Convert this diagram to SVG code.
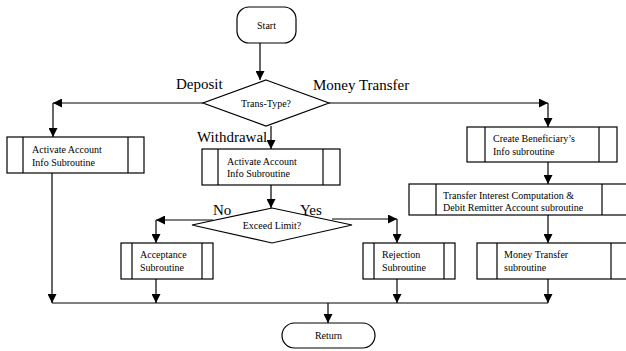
<svg xmlns="http://www.w3.org/2000/svg" width="626" height="351" viewBox="0 0 626 351">
<defs>
<marker id="ah" viewBox="0 0 10 10" refX="10" refY="5" markerWidth="9" markerHeight="9" markerUnits="userSpaceOnUse" orient="auto">
<path d="M0,0 L10,5 L0,10 z" fill="#000"/>
</marker>
<style>
.s{fill:#fff;stroke:#000;stroke-width:1.2}
.l{fill:none;stroke:#000;stroke-width:1.2}
.c{fill:none;stroke:#000;stroke-width:1.2;marker-end:url(#ah)}
.t{font-family:"Liberation Serif","Times New Roman",serif;font-size:10px;fill:#000}
.b{font-family:"Liberation Serif","Times New Roman",serif;font-size:15px;fill:#000}
</style>
</defs>
<rect width="626" height="351" fill="#fff"/>
<g id="connectors">
<line class="c" x1="260" y1="43" x2="260" y2="80"/>
<polyline class="c" points="203,103 53,103"/>
<line class="c" x1="53" y1="103" x2="53" y2="137"/>
<polyline class="c" points="329,103 548,103"/>
<line class="c" x1="548" y1="103" x2="548" y2="127"/>
<line class="c" x1="271" y1="126" x2="271" y2="149"/>
<line class="c" x1="548" y1="162" x2="548" y2="184"/>
<line class="c" x1="548" y1="215" x2="548" y2="243"/>
<line class="c" x1="271" y1="185" x2="271" y2="208"/>
<line class="c" x1="213" y1="220" x2="156" y2="220"/>
<line class="c" x1="156" y1="220" x2="156" y2="243"/>
<line class="c" x1="332" y1="219" x2="397" y2="219"/>
<line class="c" x1="397" y1="219" x2="397" y2="243"/>
<line class="c" x1="52" y1="173" x2="52" y2="303"/>
<line class="c" x1="156" y1="279" x2="156" y2="303"/>
<line class="c" x1="397" y1="279" x2="397" y2="303"/>
<line class="c" x1="548" y1="279" x2="548" y2="303"/>
<line class="l" x1="52" y1="303" x2="548" y2="303"/>
<line class="c" x1="328" y1="303" x2="328" y2="323"/>
</g>
<g id="start">
<rect class="s" x="237" y="7" width="59" height="36" rx="12"/>
<text class="t" x="266.5" y="29" text-anchor="middle" font-size="12">Start</text>
</g>
<g id="trans-type">
<polygon class="s" points="266,80 329,103 266,126 203,103"/>
<text class="t" x="266" y="107" text-anchor="middle" font-size="9.5">Trans-Type?</text>
</g>
<g id="labels">
<text class="b" x="176" y="89">Deposit</text>
<text class="b" x="313" y="90">Money Transfer</text>
<text class="b" x="197" y="142">Withdrawal</text>
<text class="b" x="213" y="215">No</text>
<text class="b" x="300" y="215">Yes</text>
</g>
<g id="deposit-activate">
<rect class="s" x="7" y="137" width="137" height="36"/>
<line class="l" x1="23" y1="137" x2="23" y2="173"/>
<line class="l" x1="128" y1="137" x2="128" y2="173"/>
<text class="t" x="32" y="153">Activate Account</text>
<text class="t" x="32" y="166">Info Subroutine</text>
</g>
<g id="withdrawal-activate">
<rect class="s" x="202" y="149" width="138" height="36"/>
<line class="l" x1="218" y1="149" x2="218" y2="185"/>
<line class="l" x1="323" y1="149" x2="323" y2="185"/>
<text class="t" x="227" y="165">Activate Account</text>
<text class="t" x="227" y="177">Info Subroutine</text>
</g>
<g id="exceed-limit">
<polygon class="s" points="272,208 352,225 272,243 192,225"/>
<text class="t" x="272" y="229" text-anchor="middle">Exceed Limit?</text>
</g>
<g id="acceptance">
<rect class="s" x="121" y="243" width="92" height="36"/>
<line class="l" x1="132" y1="243" x2="132" y2="279"/>
<line class="l" x1="202" y1="243" x2="202" y2="279"/>
<text class="t" x="140" y="258">Acceptance</text>
<text class="t" x="140" y="271">Subroutine</text>
</g>
<g id="rejection">
<rect class="s" x="363" y="243" width="92" height="36"/>
<line class="l" x1="374" y1="243" x2="374" y2="279"/>
<line class="l" x1="444" y1="243" x2="444" y2="279"/>
<text class="t" x="382" y="258">Rejection</text>
<text class="t" x="382" y="271">Subroutine</text>
</g>
<g id="beneficiary">
<rect class="s" x="467" y="127" width="150" height="35"/>
<line class="l" x1="485" y1="127" x2="485" y2="162"/>
<line class="l" x1="599" y1="127" x2="599" y2="162"/>
<text class="t" x="493" y="142">Create Beneficiary’s</text>
<text class="t" x="493" y="155">Info subroutine</text>
</g>
<g id="interest">
<rect class="s" x="409" y="184" width="220" height="31"/>
<line class="l" x1="436" y1="184" x2="436" y2="215"/>
<line class="l" x1="602" y1="184" x2="602" y2="215"/>
<text class="t" x="443" y="199">Transfer Interest Computation &amp;</text>
<text class="t" x="443" y="211">Debit Remitter Account subroutine</text>
</g>
<g id="money-transfer">
<rect class="s" x="477" y="243" width="152" height="36"/>
<line class="l" x1="497" y1="243" x2="497" y2="279"/>
<line class="l" x1="611" y1="243" x2="611" y2="279"/>
<text class="t" x="504" y="258">Money Transfer</text>
<text class="t" x="504" y="271">subroutine</text>
</g>
<g id="return">
<rect class="s" x="282" y="323" width="93" height="25" rx="12.5"/>
<text class="t" x="328.5" y="339" text-anchor="middle">Return</text>
</g>
</svg>
